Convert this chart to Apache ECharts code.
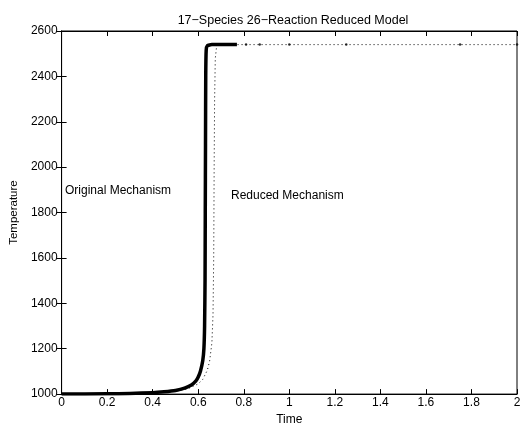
<!DOCTYPE html>
<html>
<head>
<meta charset="utf-8">
<script src="https://cdn.jsdelivr.net/npm/echarts@6/dist/echarts.min.js"></script>
<style>
  html, body { margin: 0; padding: 0; background: #fff; }
  #canvas { width: 528px; height: 431px; }
</style>
</head>
<body>
<div id="canvas"></div>
<script>
// values
var originalTime = [0, 0.2, 0.3, 0.4, 0.45, 0.5, 0.54, 0.57, 0.59, 0.6, 0.61, 0.62, 0.625, 0.628, 0.63, 0.631, 0.632, 0.633, 0.635, 0.64, 0.66, 0.77];
var originalTemp = [1000, 1001, 1003, 1006, 1010, 1016, 1026, 1040, 1058, 1075, 1102, 1148, 1200, 1300, 1500, 1800, 2100, 2400, 2515, 2535, 2540, 2540];

var reducedTime = [0, 0.4, 0.5, 0.55, 0.6, 0.62, 0.64, 0.65, 0.66, 0.665, 0.668, 0.67, 0.672, 0.675, 0.68, 0.69, 0.72, 2];
var reducedTemp = [1000, 1004, 1012, 1022, 1045, 1065, 1105, 1145, 1225, 1350, 1600, 2000, 2300, 2480, 2525, 2538, 2540, 2540];

// integrator step markers visible on the dotted tail
var stepTime = [0.81, 0.87, 1.0, 1.25, 1.75, 2.0];
var stepTemp = [2540, 2540, 2540, 2540, 2540, 2540];

function zip(a, b) {
    var out = [];
    for (var i = 0; i < a.length; i++) out.push([a[i], b[i]]);
    return out;
}

var font = 'Liberation Sans, Arial, Helvetica, sans-serif';

var chart = echarts.init(document.getElementById('canvas'));

var tickStyle = {show: true, inside: true, length: 5, lineStyle: {color: '#000', width: 1}};

var option = {
    animation: false,
    backgroundColor: '#fff',
    title: {
        text: '17\u2212Species 26\u2212Reaction Reduced Model',
        left: 288, top: 9, textAlign: 'center',
        textStyle: {fontFamily: font, fontSize: 12.5, fontWeight: 'normal', color: '#000'}
    },
    grid: {
        left: 58, right: 11, top: 31, bottom: 35,
        show: true, borderColor: '#000', borderWidth: 1
    },
    xAxis: [
        {
            type: 'value', min: 0, max: 2, interval: 0.2,
            name: 'Time', nameLocation: 'middle', nameGap: 19,
            nameTextStyle: {fontFamily: font, fontSize: 12, color: '#000'},
            axisLine: {show: true, lineStyle: {color: '#000'}},
            axisTick: tickStyle,
            splitLine: {show: false},
            axisLabel: {fontFamily: font, fontSize: 12, color: '#000', margin: 3,
                formatter: function (v) { return String(Math.round(v * 10) / 10); }}
        },
        {
            type: 'value', min: 0, max: 2, interval: 0.2, position: 'top',
            axisLine: {show: true, lineStyle: {color: '#000'}},
            axisTick: tickStyle, axisLabel: {show: false}, splitLine: {show: false}
        }
    ],
    yAxis: [
        {
            type: 'value', min: 1000, max: 2600, interval: 200,
            name: 'Temperature', nameLocation: 'middle', nameGap: 32,
            nameTextStyle: {fontFamily: font, fontSize: 11.5, color: '#000'},
            axisLine: {show: true, lineStyle: {color: '#000'}},
            axisTick: tickStyle,
            splitLine: {show: false},
            axisLabel: {fontFamily: font, fontSize: 12, color: '#000', margin: 4,
                formatter: function (v) { return String(v); }}
        },
        {
            type: 'value', min: 1000, max: 2600, interval: 200, position: 'right',
            axisLine: {show: true, lineStyle: {color: '#000'}},
            axisTick: tickStyle, axisLabel: {show: false}, splitLine: {show: false}
        }
    ],
    graphic: [
        {type: 'text', left: 65, top: 185, style: {text: 'Original Mechanism', font: '12px ' + font, fill: '#000'}},
        {type: 'text', left: 231, top: 190, style: {text: 'Reduced Mechanism', font: '12px ' + font, fill: '#000'}}
    ],
    series: [
        {
            name: 'Reduced Mechanism', type: 'line',
            data: zip(reducedTime, reducedTemp),
            showSymbol: false, smooth: false,
            lineStyle: {color: '#000', width: 1, type: [1, 3]}
        },
        {
            name: 'Steps', type: 'scatter',
            data: zip(stepTime, stepTemp),
            symbol: 'circle', symbolSize: 2.5,
            itemStyle: {color: '#000'}
        },
        {
            name: 'Original Mechanism', type: 'line',
            data: zip(originalTime, originalTemp),
            showSymbol: false, smooth: 0.15,
            lineStyle: {color: '#000', width: 3.5, join: 'round'}
        }
    ]
};

chart.setOption(option);
</script>
</body>
</html>
